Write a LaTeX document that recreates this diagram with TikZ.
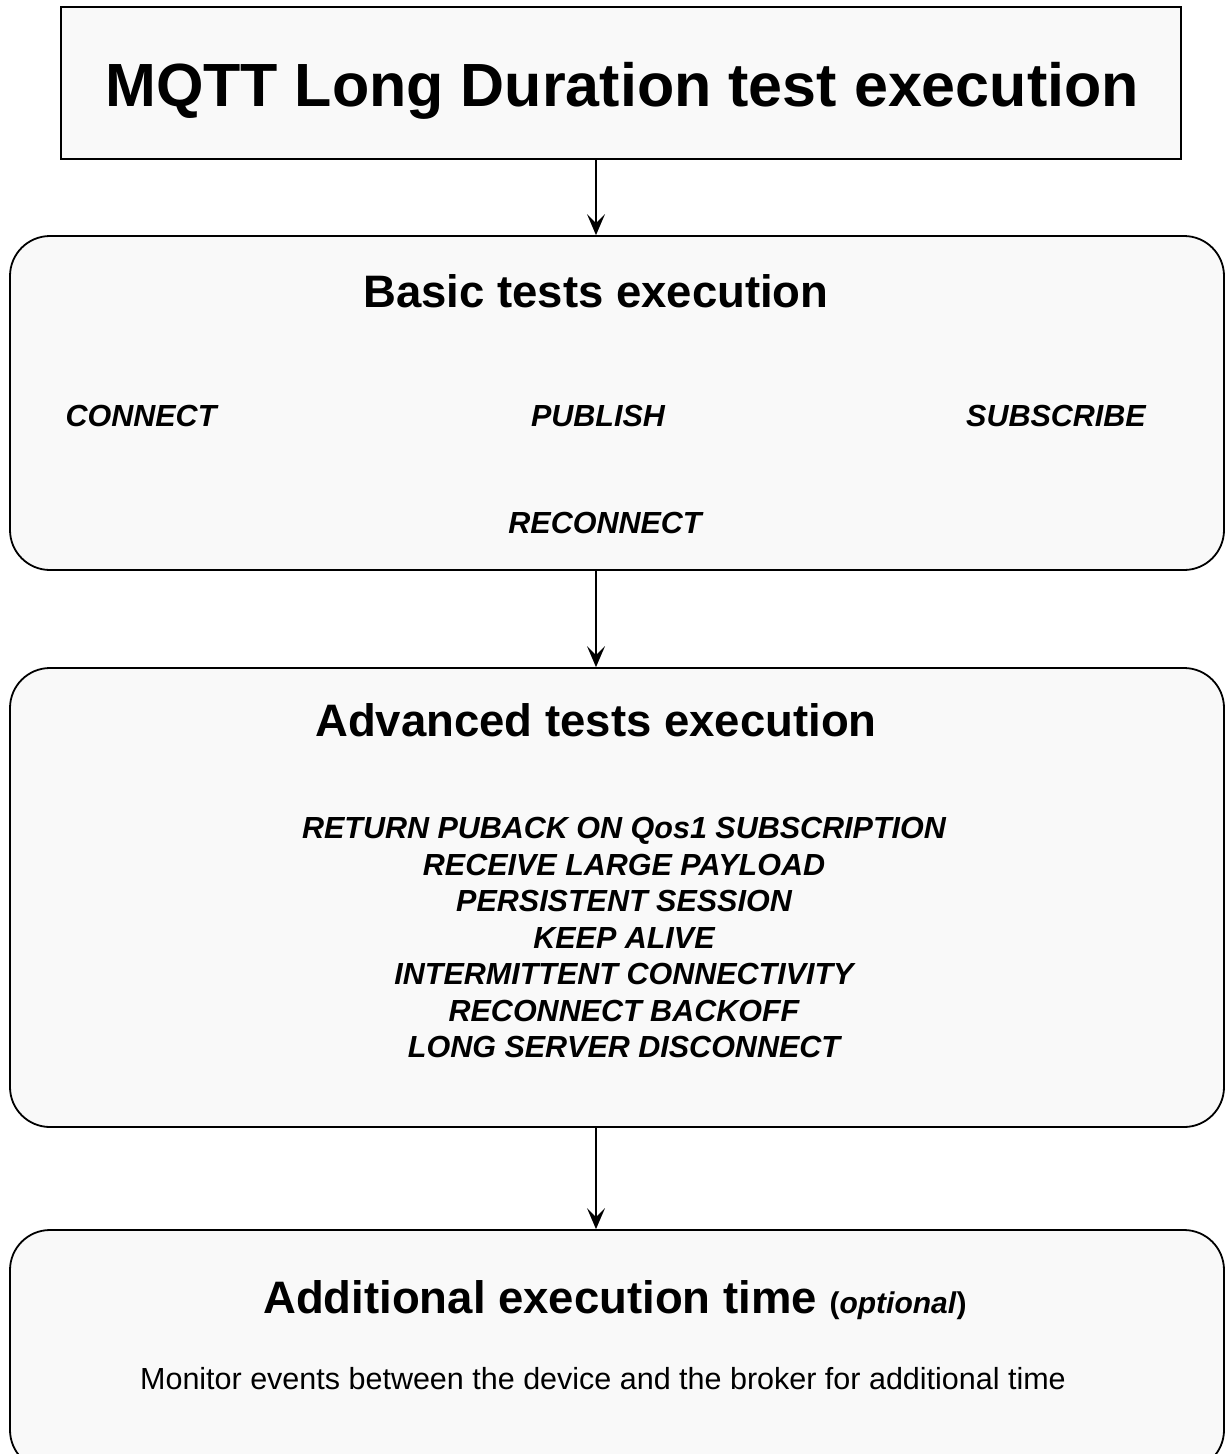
\documentclass[tikz,border=0pt]{standalone}
\usepackage{fontspec}
\setmainfont{Liberation Sans}
\usetikzlibrary{arrows.meta}
\definecolor{boxfill}{HTML}{F9F9F9}
\tikzset{
  box/.style={draw=black, line width=1.8pt, fill=boxfill, inner sep=0pt},
  roundbox/.style={box, rounded corners=40pt},
  arr/.style={line width=1.8pt, -{Stealth[length=21pt,width=18pt,inset=9pt]}},
  titletxt/.style={font=\fontsize{61}{72}\selectfont\bfseries, inner sep=0pt, anchor=base},
  headtxt/.style={font=\fontsize{45.5}{54}\selectfont\bfseries, inner sep=0pt, anchor=base},
  itemtxt/.style={font=\fontsize{30.5}{36.5}\selectfont\bfseries\itshape, inner sep=0pt, anchor=base},
  plaintxt/.style={font=\fontsize{30.5}{36}\selectfont, inner sep=0pt, anchor=base}
}
\begin{document}
\begin{tikzpicture}[x=1pt,y=-1pt]
\useasboundingbox (0,0) rectangle (1225,1454);
\clip (0,0) rectangle (1225,1454);
\fill[white] (0,0) rectangle (1225,1454);
% boxes
\node[box, minimum width=1120pt, minimum height=152pt] (title) at (621,83) {};
\node[roundbox, minimum width=1214pt, minimum height=334pt] (basic) at (617,403) {};
\node[roundbox, minimum width=1214pt, minimum height=459pt] (adv) at (617,897.5) {};
\node[roundbox, minimum width=1214pt, minimum height=240pt] (add) at (617,1350) {};
% texts
\node[titletxt] (titleT) at (622,106.5) {MQTT Long Duration test execution};
\node[headtxt] (basicT) at (596,307) {Basic tests execution};
\node[itemtxt] (connect) at (141,426) {CONNECT};
\node[itemtxt] (publish) at (598,426) {PUBLISH};
\node[itemtxt] (subscribe) at (1056,426) {SUBSCRIBE};
\node[itemtxt] (reconnect) at (605,533) {RECONNECT};
\node[headtxt] (advT) at (596,736) {Advanced tests execution};
\node[font=\fontsize{30.5}{36.5}\selectfont\bfseries\itshape, inner sep=0pt, align=center, anchor=center] (advL) at (624,937.5)
  {RETURN PUBACK ON Qos1 SUBSCRIPTION\\RECEIVE LARGE PAYLOAD\\PERSISTENT SESSION\\KEEP ALIVE\\INTERMITTENT CONNECTIVITY\\RECONNECT BACKOFF\\LONG SERVER DISCONNECT};
\node[headtxt] (addT) at (615,1313) {Additional execution time {\fontsize{30}{36}\selectfont(\textit{optional})}};
\node[plaintxt] (monitor) at (603,1389) {Monitor events between the device and the broker for additional time};
% connectors
\coordinate (ax) at (596,0);
\draw[arr] (title.south -| ax) -- (basic.north -| ax);
\draw[arr] (basic.south -| ax) -- (adv.north -| ax);
\draw[arr] (adv.south -| ax) -- (add.north -| ax);
\end{tikzpicture}
\end{document}
